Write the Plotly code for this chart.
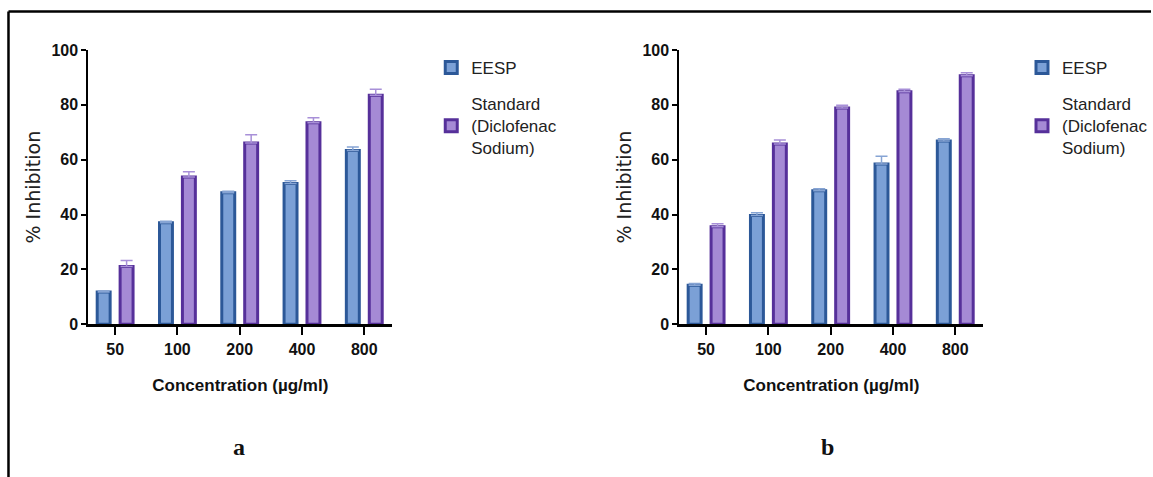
import plotly.graph_objects as go

W, H = 1153, 477

categories = ["50", "100", "200", "400", "800"]

# Panel a
a_eesp = [11.8, 37.0, 48.0, 51.3, 63.4]
a_eesp_err = [0.3, 0.6, 0.5, 1.0, 1.2]
a_std = [21.1, 53.7, 66.1, 73.5, 83.5]
a_std_err = [2.2, 1.9, 3.0, 1.8, 2.2]

# Panel b
b_eesp = [14.2, 39.7, 48.7, 58.4, 66.8]
b_eesp_err = [0.7, 1.0, 0.7, 2.9, 0.8]
b_std = [35.6, 65.7, 78.9, 84.8, 90.6]
b_std_err = [1.1, 1.5, 1.0, 0.9, 1.1]

series_names = ["EESP", "Standard<br>(Diclofenac<br>Sodium)"]
y_ticks = [0, 20, 40, 60, 80, 100]
x_title = "Concentration (µg/ml)"
y_title = "% Inhibition"
panel_labels = ["a", "b"]

BLUE_FILL, BLUE_LINE, BLUE_ERR = "#7ba0d6", "#2c5898", "#86a4d4"
PUR_FILL, PUR_LINE, PUR_ERR = "#a58ad5", "#56309a", "#a890d8"

NARROW = "Liberation Sans Narrow, Arial Narrow, Liberation Sans, Arial, sans-serif"
SANS = "Liberation Sans, Arial, sans-serif"
SERIF = "Liberation Serif, Times New Roman, serif"


def px_x(p):
    return p / W


def px_y(p):
    return 1 - p / H


fig = go.Figure()

panels = [
    ("x", "y", "legend", a_eesp, a_eesp_err, a_std, a_std_err, "a"),
    ("x2", "y2", "legend2", b_eesp, b_eesp_err, b_std, b_std_err, "b"),
]
for xa, ya, lg, e, ee, s, se, tag in panels:
    fig.add_trace(go.Bar(
        x=categories, y=e, name=series_names[0], xaxis=xa, yaxis=ya,
        legend=lg, legendgroup=tag + "1",
        marker=dict(color=BLUE_FILL, line=dict(color=BLUE_LINE, width=3)),
        error_y=dict(type="data", array=ee, arrayminus=[0] * len(ee),
                     symmetric=False, color=BLUE_ERR, thickness=1.5, width=6),
    ))
    fig.add_trace(go.Bar(
        x=categories, y=s, name=series_names[1], xaxis=xa, yaxis=ya,
        legend=lg, legendgroup=tag + "2",
        marker=dict(color=PUR_FILL, line=dict(color=PUR_LINE, width=3)),
        error_y=dict(type="data", array=se, arrayminus=[0] * len(se),
                     symmetric=False, color=PUR_ERR, thickness=1.5, width=6),
    ))

ydom = [px_y(324.3), px_y(50)]
xaxis_common = dict(
    type="category", range=[-0.43, 4.45], showline=True, linecolor="black",
    linewidth=3, ticks="outside", ticklen=8, tickwidth=2, tickcolor="black",
    tickfont=dict(family=NARROW, size=16, color="#111", weight="bold"),
    title=dict(text=x_title, font=dict(family=NARROW, size=17, color="#111", weight="bold"),
               standoff=23),
    showgrid=False, zeroline=False, automargin=False,
)
yaxis_common = dict(
    range=[0, 100], tickvals=y_ticks, showline=True, linecolor="black",
    linewidth=2, ticks="outside", ticklen=5, tickwidth=2, tickcolor="black",
    tickfont=dict(family=NARROW, size=16, color="#111", weight="bold"),
    title=dict(text=y_title, font=dict(family="DejaVu Sans, sans-serif", size=19, color="#222"),
               standoff=6),
    showgrid=False, zeroline=False, automargin=False, domain=ydom,
)

fig.update_layout(
    width=W, height=H, margin=dict(l=0, r=0, t=0, b=0),
    paper_bgcolor="white", plot_bgcolor="white",
    barmode="group", bargap=0.264, bargroupgap=0.435,
    xaxis=dict(xaxis_common, domain=[px_x(88.5), px_x(393)], anchor="y"),
    yaxis=dict(yaxis_common, anchor="x"),
    xaxis2=dict(xaxis_common, domain=[px_x(680.5), px_x(985)], anchor="y2"),
    yaxis2=dict(yaxis_common, anchor="x2"),
    legend=dict(x=px_x(432), y=px_y(50), xanchor="left", yanchor="top",
                font=dict(family=SANS, size=17, color="#222"), valign="middle",
                tracegroupgap=11, bgcolor="rgba(0,0,0,0)"),
    legend2=dict(x=px_x(1024), y=px_y(50), xanchor="left", yanchor="top",
                 font=dict(family=SANS, size=17, color="#222"), valign="middle",
                 tracegroupgap=11, bgcolor="rgba(0,0,0,0)"),
    shapes=[
        dict(type="line", xref="paper", yref="paper", x0=px_x(8.5), x1=1,
             y0=px_y(11.5), y1=px_y(11.5), line=dict(color="black", width=2.5)),
        dict(type="line", xref="paper", yref="paper", x0=px_x(8.5), x1=px_x(8.5),
             y0=px_y(11.5), y1=0, line=dict(color="black", width=2.5)),
    ],
    annotations=[
        dict(text=panel_labels[0], x=px_x(239), y=px_y(447), xref="paper", yref="paper",
             xanchor="center", yanchor="middle",
             showarrow=False, font=dict(family=SERIF, size=24, color="#111", weight="bold")),
        dict(text=panel_labels[1], x=px_x(829), y=px_y(447), xref="paper", yref="paper",
             xanchor="center", yanchor="middle",
             showarrow=False, font=dict(family=SERIF, size=24, color="#111", weight="bold")),
    ],
)

fig.write_html("out.html")
